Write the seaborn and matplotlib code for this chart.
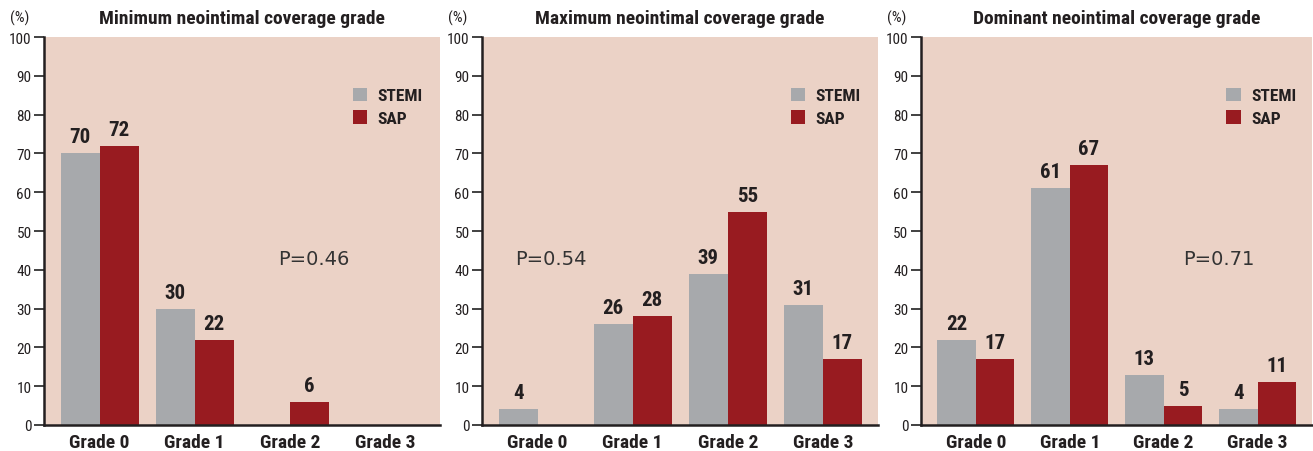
import matplotlib
matplotlib.use("Agg")
import matplotlib.pyplot as plt
import seaborn as sns
import pandas as pd
from matplotlib import font_manager
from matplotlib.patches import Patch

grades = ["Grade 0", "Grade 1", "Grade 2", "Grade 3"]
groups = ["STEMI", "SAP"]
titles = ["Minimum neointimal coverage grade",
          "Maximum neointimal coverage grade",
          "Dominant neointimal coverage grade"]
stemi_min = [70, 30, 0, 0]
sap_min = [72, 22, 6, 0]
stemi_max = [4, 26, 39, 31]
sap_max = [0, 28, 55, 17]
stemi_dom = [22, 61, 13, 4]
sap_dom = [17, 67, 5, 11]
p_values = ["P=0.46", "P=0.54", "P=0.71"]

sns.set_theme(style="white")
avail = {f.name for f in font_manager.fontManager.ttflist}
cond = None
for name in ["DejaVu Sans Condensed", "Liberation Sans Narrow", "Roboto Condensed", "DejaVu Sans"]:
    if name in avail:
        cond = name
        break
plt.rcParams['font.family'] = [cond, 'DejaVu Sans']

GRAY = "#A7A9AC"
RED = "#981B20"
BG = "#EBD2C6"
TXT = "#231F20"

fig = plt.figure(figsize=(13.13, 4.52), dpi=100)
W, H = 1313, 452
panels = [(44, 396), (482, 396), (921, 391)]
y_top, y_bot = 38, 426
series = [(stemi_min, sap_min), (stemi_max, sap_max), (stemi_dom, sap_dom)]
p_pos = [(2.25, 43), (0.14, 43), (2.59, 43)]

for i, ((x0, w), (s, p)) in enumerate(zip(panels, series)):
    ax = fig.add_axes([x0 / W, 1 - y_bot / H, w / W, (y_bot - y_top) / H])
    df = pd.DataFrame({
        "grade": grades * 2,
        "group": [groups[0]] * 4 + [groups[1]] * 4,
        "value": list(s) + list(p),
    })
    sns.barplot(data=df, x="grade", y="value", hue="group", order=grades,
                hue_order=groups, palette=[GRAY, RED], width=0.82,
                saturation=1, ax=ax, legend=False, edgecolor="none", linewidth=0)
    ax.set_facecolor(BG)
    ax.set_ylim(0, 100)
    ax.set_xlim(-0.585, 3.58)
    ax.set_yticks(range(0, 101, 10))
    ax.set_xlabel("")
    ax.set_ylabel("")
    for side in ["top", "right"]:
        ax.spines[side].set_visible(False)
    for side in ["left", "bottom"]:
        ax.spines[side].set_color(TXT)
        ax.spines[side].set_linewidth(1.8)
    ax.tick_params(axis="y", direction="out", length=7, width=1.3, color="#333333",
                   labelsize=11, labelcolor=TXT, pad=2, left=True)
    ax.tick_params(axis="x", length=0, labelsize=14, labelcolor=TXT, pad=6)
    for lab in ax.get_xticklabels():
        lab.set_fontweight("bold")
    for cont in ax.containers:
        for bar in cont:
            h = bar.get_height()
            if h > 0:
                ax.text(bar.get_x() + bar.get_width() / 2, h + 1.8, f"{int(h)}",
                        ha="center", va="bottom", fontsize=15, fontweight="bold",
                        color=TXT)
    ax.set_title(titles[i], fontsize=14, fontweight="bold", color=TXT, pad=10)
    px, py = p_pos[i]
    ax.text(px, py, p_values[i], fontsize=14, color="#333333",
            family="DejaVu Sans", ha="center", va="center")
    handles = [Patch(facecolor=GRAY, edgecolor="none"), Patch(facecolor=RED, edgecolor="none")]
    leg = ax.legend(handles, groups, loc="upper left", bbox_to_anchor=(0.74, 0.91),
                    frameon=False, handlelength=0.85, handleheight=0.85,
                    handletextpad=0.6, labelspacing=0.4, prop={"weight": "bold", "size": 12.5})
    for t in leg.get_texts():
        t.set_color(TXT)
    fig.text((x0 - 34) / W, 1 - 18 / H, "(%)", fontsize=11, color=TXT,
             ha="left", va="center")

fig.savefig("out.png", dpi=100)
